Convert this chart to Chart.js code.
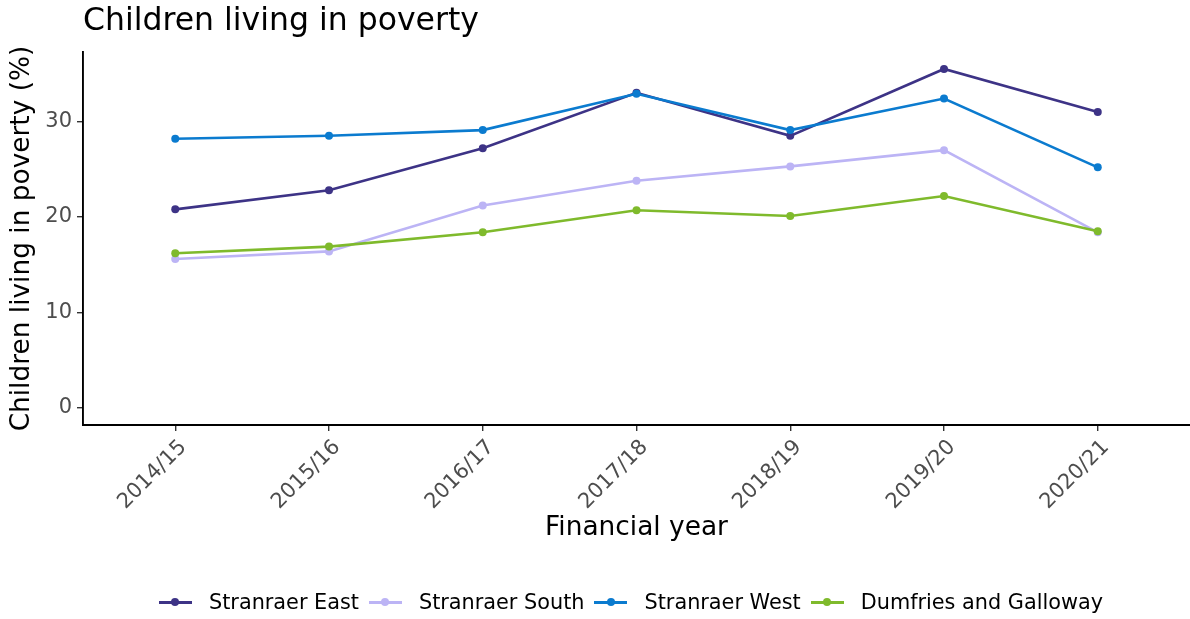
<!DOCTYPE html>
<html>
<head>
<meta charset="utf-8">
<script src="https://cdn.jsdelivr.net/npm/chart.js@4/dist/chart.umd.min.js"></script>
<style>
  html, body { margin: 0; padding: 0; background: #fff; }
  body { width: 1190px; height: 619px; position: relative; overflow: hidden; font-family: "DejaVu Sans", sans-serif; }
  #wrap { position: absolute; left: 0; top: 0; width: 1190px; height: 619px; }
  #title { position: absolute; left: 83px; top: 1px; font-size: 31.5px; color: #000; white-space: nowrap; }
  #legend { position: absolute; left: 72px; top: 590px; width: 1118px; display: flex; justify-content: center; align-items: center; font-size: 20.8px; color: #000; }
  .item { display: flex; align-items: center; margin: 0 5px; }
  .key { position: relative; width: 33px; height: 20px; margin-right: 17px; }
  .key .ln { position: absolute; left: 0; top: 9px; width: 33px; height: 2.6px; }
  .key .dt { position: absolute; left: 12.5px; top: 6.3px; width: 8px; height: 8px; border-radius: 50%; }
</style>
</head>
<body>
<div id="wrap"><canvas id="chart" width="1190" height="619"></canvas></div>
<div id="title">Children living in poverty</div>
<div id="legend"></div>
<script>
"use strict";

const years = ["2014/15", "2015/16", "2016/17", "2017/18", "2018/19", "2019/20", "2020/21"];
const seriesNames = ["Stranraer East", "Stranraer South", "Stranraer West", "Dumfries and Galloway"];
const stranraerEast = [20.8, 22.8, 27.2, 33.0, 28.5, 35.5, 31.0];
const stranraerSouth = [15.6, 16.4, 21.2, 23.8, 25.3, 27.0, 18.4];
const stranraerWest = [28.2, 28.5, 29.1, 32.9, 29.1, 32.4, 25.2];
const dumfriesGalloway = [16.2, 16.9, 18.4, 20.7, 20.1, 22.2, 18.5];
const yTicks = [0, 10, 20, 30];
const colours = ["#3d3386", "#bcb4f5", "#0b7bcf", "#7fba2c"];

const allValues = [stranraerEast, stranraerSouth, stranraerWest, dumfriesGalloway];

const datasets = allValues.map((vals, i) => ({
  label: seriesNames[i],
  data: vals.map((v, j) => ({ x: j, y: v })),
  borderColor: colours[i],
  backgroundColor: colours[i],
  borderWidth: 2.6,
  pointRadius: 4,
  pointHoverRadius: 4,
  pointBorderWidth: 0,
  tension: 0,
  order: 4 - i,
}));

const tickFont = { family: "DejaVu Sans", size: 21 };
const axisTitleFont = { family: "DejaVu Sans", size: 26.4 };

new Chart(document.getElementById("chart"), {
  type: "line",
  data: { datasets: datasets },
  options: {
    responsive: false,
    animation: false,
    layout: { autoPadding: false, padding: { top: 52, right: 0, bottom: 75, left: 0 } },
    plugins: {
      legend: { display: false },
      tooltip: { enabled: false },
      title: { display: false },
    },
    scales: {
      x: {
        type: "linear",
        min: -0.6,
        max: 6.6,
        afterBuildTicks: (scale) => {
          scale.ticks = years.map((y, i) => ({ value: i }));
        },
        afterFit: (scale) => {
          scale.height = 119;
          scale.paddingRight = 0;
          scale.paddingLeft = 0;
        },
        grid: {
          drawOnChartArea: false,
          drawTicks: true,
          tickLength: 6,
          color: "#333333",
          lineWidth: 1.4,
        },
        border: { display: true, color: "#000000", width: 1.9 },
        ticks: {
          autoSkip: false,
          minRotation: 45,
          maxRotation: 45,
          padding: 4,
          labelOffset: 8,
          color: "#4d4d4d",
          font: tickFont,
          callback: (value) => years[value],
        },
        title: {
          display: true,
          text: "Financial year",
          color: "#000000",
          font: axisTitleFont,
          padding: { top: 0, bottom: 0 },
        },
      },
      y: {
        min: -1.775,
        max: 37.275,
        afterBuildTicks: (scale) => {
          scale.ticks = yTicks.map((v) => ({ value: v }));
        },
        afterFit: (scale) => {
          scale.width = 83;
        },
        grid: {
          drawOnChartArea: false,
          drawTicks: true,
          tickLength: 6,
          color: "#333333",
          lineWidth: 1.4,
        },
        border: { display: true, color: "#000000", width: 1.9 },
        ticks: {
          padding: 5,
          color: "#4d4d4d",
          font: tickFont,
        },
        title: {
          display: true,
          text: "Children living in poverty (%)",
          color: "#000000",
          font: axisTitleFont,
          padding: { top: 6, bottom: 0 },
        },
      },
    },
  },
});

// legend: line with a dot, like the ggplot key
const legendEl = document.getElementById("legend");
seriesNames.forEach((name, i) => {
  const item = document.createElement("div");
  item.className = "item";
  item.innerHTML =
    '<span class="key"><span class="ln" style="background:' + colours[i] + '"></span>' +
    '<span class="dt" style="background:' + colours[i] + '"></span></span>' +
    "<span>" + name + "</span>";
  legendEl.appendChild(item);
});
</script>
</body>
</html>
